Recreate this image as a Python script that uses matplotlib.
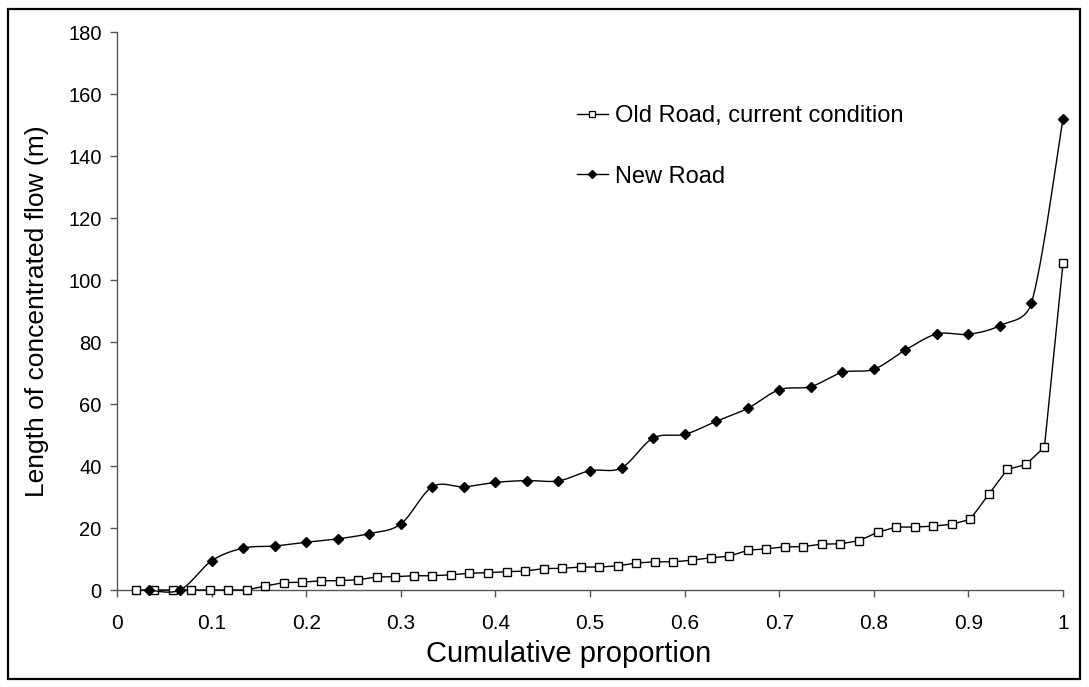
import numpy as np
import matplotlib
matplotlib.use("Agg")
import matplotlib.pyplot as plt
from matplotlib.patches import Rectangle
from matplotlib.lines import Line2D

plt.rcParams['font.family'] = ['Liberation Sans', 'DejaVu Sans']

# ---- data ----
old_road = [0, 0, 0, 0, 0, 0, 0, 1.3, 2.4, 2.5, 3.0, 3.0, 3.3, 4.2, 4.3, 4.6, 4.6,
            4.9, 5.4, 5.6, 5.9, 6.1, 6.9, 7.0, 7.4, 7.4, 7.8, 8.7, 9.1, 9.1, 9.6,
            10.4, 10.9, 12.8, 13.3, 13.9, 14.0, 14.8, 14.9, 15.9, 18.6, 20.3, 20.3,
            20.6, 21.2, 22.8, 30.9, 38.9, 40.5, 46.1, 105.4]
new_road = [0, 0, 9.4, 13.5, 14.2, 15.4, 16.5, 18.2, 21.3, 33.3, 33.3, 34.7, 35.3,
            35.2, 38.5, 39.4, 49.0, 50.2, 54.4, 58.6, 64.6, 65.6, 70.2, 71.2, 77.4,
            82.6, 82.5, 85.3, 92.6, 152.0]
old_label = "Old Road, current condition"
new_label = "New Road"
x_label = "Cumulative proportion"
y_label = "Length of concentrated flow (m)"
x_ticks = [0, 0.1, 0.2, 0.3, 0.4, 0.5, 0.6, 0.7, 0.8, 0.9, 1]
y_ticks = [0, 20, 40, 60, 80, 100, 120, 140, 160, 180]

old_x = np.arange(1, len(old_road) + 1) / len(old_road)
new_x = np.arange(1, len(new_road) + 1) / len(new_road)


def excel_smooth(ax, x, y, n=30):
    """Excel-like smoothed line: cubic Bezier, tension 1/6, handles clamped
    to half the segment length (computed in display space)."""
    P = ax.transData.transform(np.column_stack([x, y]).astype(float))
    t = np.linspace(0, 1, n)[:, None]
    out = []
    m = len(P)
    for i in range(m - 1):
        p0 = P[i - 1] if i > 0 else P[i]
        p1 = P[i]
        p2 = P[i + 1]
        p3 = P[i + 2] if i + 2 < m else P[i + 1]
        d12 = np.linalg.norm(p2 - p1)
        h1 = (p2 - p0) / 6.0
        h2 = (p3 - p1) / 6.0
        for h in (h1, h2):
            L = np.linalg.norm(h)
            if L > d12 / 2 and L > 0:
                h *= (d12 / 2) / L
        c1 = p1 + h1
        c2 = p2 - h2
        b = ((1 - t) ** 3) * p1 + 3 * ((1 - t) ** 2) * t * c1 + 3 * (1 - t) * t ** 2 * c2 + t ** 3 * p2
        out.append(b if i == 0 else b[1:])
    B = ax.transData.inverted().transform(np.vstack(out))
    return B[:, 0], B[:, 1]


fig = plt.figure(figsize=(10.89, 6.87), dpi=100)
ax = fig.add_axes([117 / 1089, 1 - 590 / 687, (1063 - 117) / 1089, (590 - 32) / 687])
ax.set_xlim(0, 1)
ax.set_ylim(0, 180)

# old road: straight segments
ax.plot(old_x, old_road, color='black', lw=1.0, marker='s', ms=5.4,
        mfc='white', mec='black', mew=1.0, clip_on=False, zorder=3)
# new road: smoothed
sx, sy = excel_smooth(ax, new_x, new_road)
ax.plot(sx, sy, color='black', lw=1.0, clip_on=False, zorder=3)
ax.plot(new_x, new_road, ls='none', marker='D', ms=5.0, mfc='black', mec='black',
        clip_on=False, zorder=4)

ax.set_xticks(x_ticks)
ax.set_xticklabels([f"{v:g}" for v in x_ticks], fontsize=15)
ax.set_yticks(y_ticks)
ax.set_yticklabels([f"{v:g}" for v in y_ticks], fontsize=14.5)
for s in ['top', 'right']:
    ax.spines[s].set_visible(False)
for s in ['left', 'bottom']:
    ax.spines[s].set_color('#555555')
    ax.spines[s].set_linewidth(1.0)
ax.tick_params(axis='both', direction='out', length=5, width=1.0, color='#555555')
ax.tick_params(axis='x', pad=12)
ax.tick_params(axis='y', pad=6)
ax.set_xlabel(x_label, fontsize=21, labelpad=5)
ax.xaxis.label.set_x(0.477)
ax.set_ylabel(y_label, fontsize=19, labelpad=14)

handles = [
    Line2D([], [], color='black', lw=1.0, marker='s', ms=4.3, mfc='white', mec='black', mew=0.9),
    Line2D([], [], color='black', lw=1.0, marker='D', ms=4.3, mfc='black', mec='black'),
]
ax.legend(handles, [old_label, new_label], loc='upper left',
          bbox_to_anchor=(565 / 1089, 1 - 93 / 687), bbox_transform=fig.transFigure,
          frameon=False, fontsize=17, handlelength=1.3, handletextpad=0.3,
          labelspacing=1.65, borderpad=0)

fig.patches.append(Rectangle((8 / 1089, 1 - 679 / 687), (1080 - 8) / 1089, (679 - 9) / 687,
                             transform=fig.transFigure, fill=False, ec='black', lw=1.6))

fig.savefig("out.png", dpi=100)
